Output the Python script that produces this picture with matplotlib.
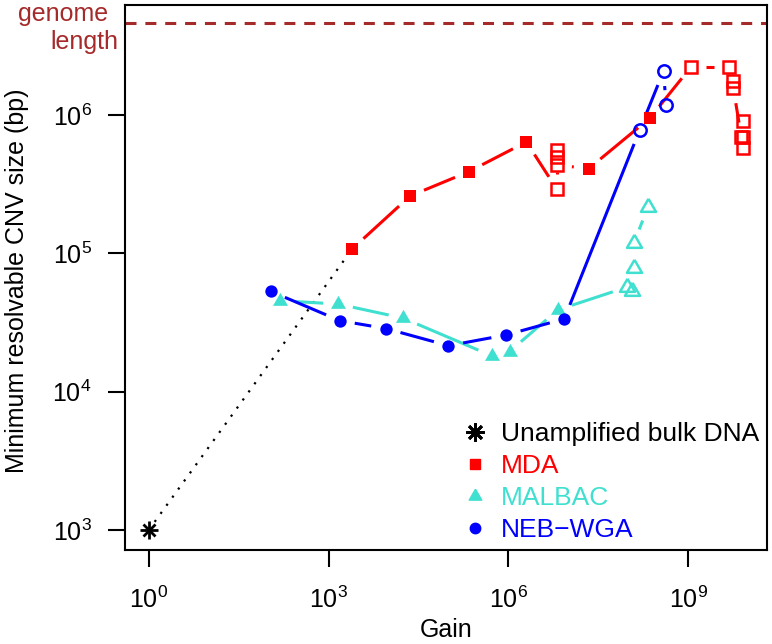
import matplotlib
matplotlib.use("Agg")
import matplotlib.pyplot as plt
import matplotlib.transforms as mtransforms
from matplotlib.lines import Line2D
import numpy as np

plt.rcParams['font.family'] = ['Liberation Sans', 'DejaVu Sans']
plt.rcParams['mathtext.fontset'] = 'custom'
plt.rcParams['mathtext.rm'] = 'Liberation Sans'
plt.rcParams['mathtext.default'] = 'regular'

# --- data (gain, minimum resolvable CNV size in bp) ---
bulk_gain = [1.0]
bulk_size = [1.0e3]

mda_gain = [2.5e3, 2.3e4, 2.2e5, 2.0e6, 6.5e6, 6.5e6, 6.5e6, 6.5e6, 2.2e7, 2.3e8,
            1.13e9, 4.8e9, 5.7e9, 5.7e9, 7.8e9, 8.2e9, 8.2e9, 8.2e9]
mda_size = [1.08e5, 2.6e5, 3.9e5, 6.4e5, 2.9e5, 5.0e5, 5.6e5, 4.35e5, 4.1e5, 9.5e5,
            2.24e6, 2.24e6, 1.75e6, 1.56e6, 6.9e5, 9.1e5, 7.0e5, 5.8e5]
mda_open = [False, False, False, False, True, True, True, True, False, False,
            True, True, True, True, True, True, True, True]

malbac_gain = [1.53e2, 1.45e3, 1.77e4, 5.4e5, 1.05e6, 6.7e6,
               9.6e7, 1.17e8, 1.24e8, 1.24e8, 2.16e8]
malbac_size = [4.55e4, 4.3e4, 3.4e4, 1.81e4, 1.95e4, 3.9e4,
               5.7e4, 5.3e4, 7.8e4, 1.18e5, 2.18e5]
malbac_open = [False] * 6 + [True] * 5

neb_gain = [1.1e2, 1.55e3, 9.1e3, 1.0e5, 9.2e5, 8.6e6, 1.56e8, 3.9e8, 4.3e8]
neb_size = [5.3e4, 3.26e4, 2.86e4, 2.15e4, 2.57e4, 3.36e4, 7.8e5, 2.08e6, 1.18e6]
neb_open = [False] * 6 + [True] * 3

genome_len = 4.6e6

series_names = ["Unamplified bulk DNA", "MDA", "MALBAC", "NEB\u2212WGA"]
series_colors = ["black", "#FF0000", "#40E0D0", "#0000FF"]

# R-like equilateral triangle centred on its centroid
tri = [(0, 1), (0.866, -0.5), (-0.866, -0.5), (0, 1)]

fig = plt.figure(figsize=(7.72, 6.44), dpi=100)
ax = fig.add_axes([125 / 772, 94 / 644, 641.7 / 772, 545 / 644])
ax.set_xscale('log')
ax.set_yscale('log')
ax.set_xlim(10 ** -0.397, 10 ** 10.313)
ax.set_ylim(10 ** 2.855, 10 ** 6.796)

GAP = 15  # pixels left blank round each point, like R's type="b"


def gapped_line(xs, ys, **kw):
    pts = ax.transData.transform(np.column_stack([xs, ys]))
    inv = ax.transData.inverted()
    for p0, p1 in zip(pts[:-1], pts[1:]):
        d = p1 - p0
        L = np.hypot(*d)
        if L <= 2 * GAP:
            continue
        u = d / L
        seg = inv.transform([p0 + u * GAP, p1 - u * GAP])
        ax.plot(seg[:, 0], seg[:, 1], solid_capstyle='butt', **kw)


def draw_points(xs, ys, is_open, marker, color, ms, mew=1.8):
    xs = np.asarray(xs)
    ys = np.asarray(ys)
    op = np.asarray(is_open)
    ax.plot(xs[~op], ys[~op], ls='none', marker=marker, ms=ms, color=color,
            mec=color, mew=0, zorder=4)
    ax.plot(xs[op], ys[op], ls='none', marker=marker, ms=ms, mfc='none',
            mec=color, mew=mew, zorder=4)


# dotted link from bulk DNA to first MDA point
ax.plot([bulk_gain[0], mda_gain[0]], [bulk_size[0], mda_size[0]], color='black',
        lw=1.6, ls=(0, (1, 3.5)), zorder=2)

gapped_line(mda_gain, mda_size, color=series_colors[1], lw=2.2, zorder=3)
gapped_line(malbac_gain, malbac_size, color=series_colors[2], lw=2.2, zorder=3)
gapped_line(neb_gain, neb_size, color=series_colors[3], lw=2.2, zorder=3)

draw_points(mda_gain, mda_size, mda_open, 's', series_colors[1], 8.6)
draw_points(malbac_gain, malbac_size, malbac_open, tri, series_colors[2], 12.5)
draw_points(neb_gain, neb_size, neb_open, 'o', series_colors[3], 8.9)

# asterisk for bulk DNA
ax.plot(bulk_gain, bulk_size, ls='none', marker='+', ms=13, mew=2, color='black', zorder=4)
ax.plot(bulk_gain, bulk_size, ls='none', marker='x', ms=9, mew=2, color='black', zorder=4)

# genome length
brown = "#A52A2A"
ax.axhline(genome_len, color=brown, lw=2.2, ls=(0, (3.6, 2.9)), zorder=1)
blend = mtransforms.blended_transform_factory(ax.transAxes, ax.transData)
ax.text(0, genome_len, "genome", color=brown, fontsize=18, ha='right', va='center',
        transform=mtransforms.offset_copy(blend, fig, x=-17, y=9, units='dots'))
ax.text(0, genome_len, "length", color=brown, fontsize=18, ha='right', va='center',
        transform=mtransforms.offset_copy(blend, fig, x=-7, y=-19, units='dots'))

# axes styling
xt = [1e0, 1e3, 1e6, 1e9]
yt = [1e3, 1e4, 1e5, 1e6]
ax.set_xticks(xt)
ax.set_yticks(yt)
ax.set_xticklabels([r'$10^{%d}$' % np.log10(v) for v in xt])
ax.set_yticklabels([r'$10^{%d}$' % np.log10(v) for v in yt])
ax.minorticks_off()
ax.tick_params(direction='out', length=12, width=1.5, labelsize=18)
ax.tick_params(axis='x', pad=14)
ax.tick_params(axis='y', pad=12)
for s in ax.spines.values():
    s.set_linewidth(1.5)

ax.set_xlabel("Gain", fontsize=18)
ax.set_ylabel("Minimum resolvable CNV size (bp)", fontsize=18)
ax.xaxis.set_label_coords(0.5, -0.124)
ax.yaxis.set_label_coords(-0.15, 0.4936)

handles = [
    Line2D([], [], ls='none', marker=(8, 2, 0), ms=13, mew=2, color='black'),
    Line2D([], [], ls='none', marker='s', ms=7, color=series_colors[1]),
    Line2D([], [], ls='none', marker=tri, ms=10.5, color=series_colors[2]),
    Line2D([], [], ls='none', marker='o', ms=7.5, color=series_colors[3]),
]
ax.legend(handles, series_names, loc='lower right', frameon=False, fontsize=19,
          labelcolor=series_colors, handlelength=0.8, handletextpad=0.55,
          labelspacing=0.3, borderpad=0.25, borderaxespad=0.05)

fig.savefig("out.png", dpi=100)
